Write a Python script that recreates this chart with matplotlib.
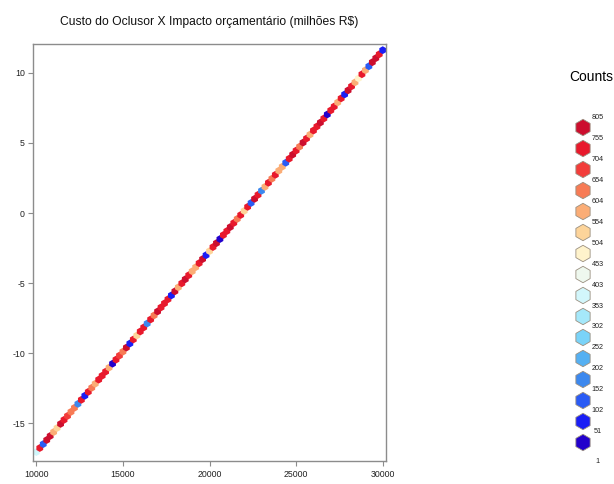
import matplotlib.pyplot as plt
from matplotlib.colors import ListedColormap, BoundaryNorm

plt.rcParams['font.family'] = ['Liberation Sans', 'DejaVu Sans']
plt.rcParams['axes.unicode_minus'] = False

# Hexagon centres along the cost/impact line and the count in each hexagon
cost = [10000, 10200, 10400, 10600, 10800, 11000, 11200, 11400, 11600, 11800,
        12000, 12200, 12400, 12600, 12800, 13000, 13200, 13400, 13600, 13800,
        14000, 14200, 14400, 14600, 14800, 15000, 15200, 15400, 15600, 15800,
        16000, 16200, 16400, 16600, 16800, 17000, 17200, 17400, 17600, 17800,
        18000, 18200, 18400, 18600, 18800, 19000, 19200, 19400, 19600, 19800,
        20000, 20200, 20400, 20600, 20800, 21000, 21200, 21400, 21600, 21800,
        22000, 22200, 22400, 22600, 22800, 23000, 23200, 23400, 23600, 23800,
        24000, 24200, 24400, 24600, 24800, 25000, 25200, 25400, 25600, 25800,
        26000, 26200, 26400, 26600, 26800, 27000, 27200, 27400, 27600, 27800,
        28000, 28200, 28400, 28600, 28800, 29000, 29200, 29400, 29600, 29800,
        30000]
impact = [-17.07, -16.78, -16.50, -16.21, -15.92, -15.64, -15.35, -15.06, -14.77, -14.49,
          -14.20, -13.91, -13.63, -13.34, -13.05, -12.77, -12.48, -12.19, -11.90, -11.62,
          -11.33, -11.04, -10.76, -10.47, -10.18, -9.90, -9.61, -9.32, -9.03, -8.75,
          -8.46, -8.17, -7.89, -7.60, -7.31, -7.03, -6.74, -6.45, -6.16, -5.88,
          -5.59, -5.30, -5.02, -4.73, -4.44, -4.16, -3.87, -3.58, -3.29, -3.01,
          -2.72, -2.43, -2.15, -1.86, -1.57, -1.29, -1.00, -0.71, -0.42, -0.14,
          0.15, 0.44, 0.72, 1.01, 1.30, 1.59, 1.87, 2.16, 2.45, 2.73,
          3.02, 3.31, 3.59, 3.88, 4.17, 4.46, 4.74, 5.03, 5.32, 5.60,
          5.89, 6.18, 6.46, 6.75, 7.04, 7.33, 7.61, 7.90, 8.19, 8.47,
          8.76, 9.05, 9.33, 9.62, 9.91, 10.20, 10.48, 10.77, 11.06, 11.34,
          11.63]
counts = [360, 740, 120, 770, 790, 600, 540, 790, 720, 700,
          610, 620, 200, 730, 60, 720, 620, 560, 720, 720,
          740, 560, 30, 750, 700, 620, 770, 90, 720, 540,
          740, 740, 180, 730, 630, 790, 720, 730, 740, 80,
          760, 600, 730, 800, 740, 570, 560, 720, 770, 70,
          550, 740, 780, 30, 730, 720, 790, 720, 620, 750,
          520, 740, 110, 760, 720, 180, 600, 740, 610, 730,
          590, 570, 110, 740, 790, 720, 610, 760, 730, 600,
          740, 720, 760, 720, 40, 750, 730, 600, 750, 60,
          780, 720, 560, 500, 740, 560, 150, 760, 760, 740,
          90]

# Count classes (low to high) and their colours
bounds = [1, 51, 102, 152, 202, 252, 302, 353, 403, 453, 504, 554, 604, 654, 704, 755, 805]
class_colors = ['#2200cc', '#1a1ef5', '#2a5bf5', '#3c88ee', '#55b0f2', '#7ad3f8',
                '#a5e8fa', '#d2f6fb', '#eef8ee', '#fff3cc', '#fdd49a', '#fbad76',
                '#f77b55', '#f23d3a', '#e8192c', '#cc0e2e']

cmap = ListedColormap(class_colors)
norm = BoundaryNorm(bounds, cmap.N, clip=True)

fig = plt.figure(figsize=(6.14, 4.84), dpi=100)
ax = fig.add_axes([0.0533, 0.0475, 0.5754, 0.8616])

ax.scatter(cost, impact, c=counts, cmap=cmap, norm=norm,
           marker='h', s=32, linewidths=0)

ax.set_xlim(9792, 30190)
ax.set_ylim(-17.71, 12.07)
ax.set_xticks([10000, 15000, 20000, 25000, 30000])
ax.set_yticks([-15, -10, -5, 0, 5, 10])

frame_col = '#8c8c8c'
for sp in ax.spines.values():
    sp.set_color(frame_col)
    sp.set_linewidth(1.0)
ax.tick_params(axis='both', length=3.6, width=0.8, color=frame_col,
               labelsize=6.3, labelcolor='#222222')
ax.tick_params(axis='x', pad=3)
ax.tick_params(axis='y', pad=2)

fig.text(0.341, 1 - 25 / 484, 'Custo do Oclusor X Impacto orçamentário (milhões R$)',
         fontsize=8.7, ha='center', va='baseline', color='#111111')

# Legend: one hexagon per count class with the class limits between them
lax = fig.add_axes([560 / 614, 1 - 475 / 484, 54 / 614, 375 / 484])
lax.axis('off')
lax.set_xlim(0, 1)
lax.set_ylim(-1.548, 16.31)
lax.scatter([0.426] * len(class_colors), range(len(class_colors)),
            c=class_colors, marker='h', s=140, edgecolors='#9a8f80', linewidths=0.6)
for i, b in enumerate(bounds):
    y = i - 0.5 if i > 0 else -0.9
    lax.text(0.70, y, str(b), fontsize=5.2, ha='center', va='center', color='#222222')

fig.text(591 / 614, 1 - 77 / 484, 'Counts', fontsize=10, ha='center', va='center')

fig.savefig('out.png', dpi=100)
